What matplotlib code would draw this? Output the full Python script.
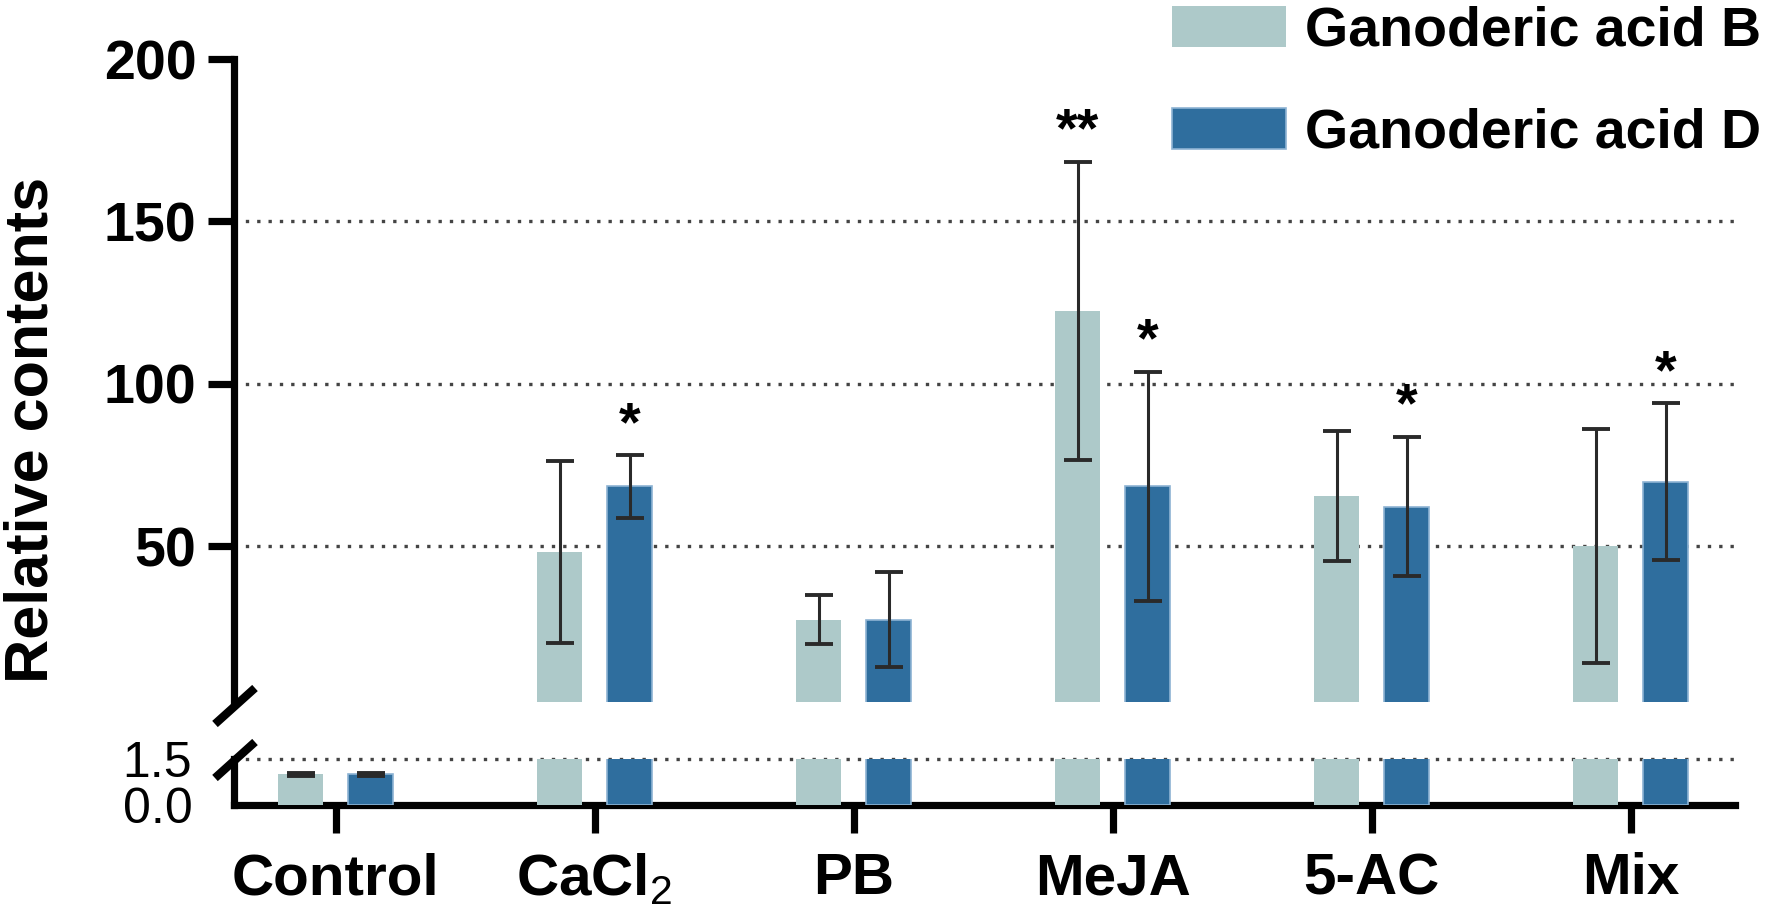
import matplotlib
matplotlib.use("Agg")
import matplotlib.pyplot as plt
import numpy as np
from matplotlib.lines import Line2D

plt.rcParams["font.family"] = ["Liberation Sans", "DejaVu Sans"]
plt.rcParams["mathtext.fontset"] = "custom"
plt.rcParams["mathtext.rm"] = "Liberation Sans"

# data
groups = ["Control", r"CaCl$_\mathrm{2}$", "PB", "MeJA", "5-AC", "Mix"]
acid_b = [1.0, 48.2, 27.4, 122.4, 65.3, 50.0]
acid_b_err = [0.05, 28.0, 7.5, 46.0, 20.0, 36.0]
acid_d = [1.0, 68.4, 27.4, 68.4, 62.2, 69.8]
acid_d_err = [0.05, 9.6, 14.5, 35.3, 21.5, 24.2]
stars_b = ["", "", "", "**", "", ""]
stars_d = ["", "*", "", "*", "*", "*"]

c_b = "#adc9c9"
c_d = "#2f6e9e"
W, H = 1772, 916

fig = plt.figure(figsize=(W / 100, H / 100), dpi=100)

def fx(px):
    return px / W

def fy(py):
    return 1 - py / H

left, right = 234, 1735
ax_top = fig.add_axes([fx(left), fy(702), fx(right - left), fy(59) - fy(702)])
ax_bot = fig.add_axes([fx(left), fy(805), fx(right - left), fy(759) - fy(805)])

x = np.arange(len(groups))
bw = 0.175
off = 0.135
ekw = dict(ecolor="#2a2a2a", elinewidth=2.2, capsize=10, capthick=2.8)
spw = 5.2

for ax in (ax_top, ax_bot):
    ax.bar(x - off, acid_b, bw, color=c_b, yerr=acid_b_err, error_kw=ekw,
           zorder=3, label="Ganoderic acid B")
    ax.bar(x + off, acid_d, bw, color=c_d, edgecolor="#8db3d3", linewidth=1.2,
           yerr=acid_d_err, error_kw=ekw, zorder=3, label="Ganoderic acid D")
    ax.set_xlim(-0.392, 5.403)
    for s in ("top", "right"):
        ax.spines[s].set_visible(False)
    ax.spines["left"].set_linewidth(spw)

# upper part
ax_top.set_ylim(2, 200)
ax_top.spines["bottom"].set_visible(False)
ax_top.set_yticks([50, 100, 150, 200])
ax_top.set_yticklabels(["50", "100", "150", "200"], fontsize=40, fontweight="bold")
ax_top.tick_params(axis="y", length=19, width=spw, pad=8)
ax_top.set_xticks([])
for g in (50, 100, 150):
    ax_top.axhline(g, color="#444444", ls=(0, (1, 2.4)), lw=2.4, zorder=1)

for i in range(len(groups)):
    if stars_b[i]:
        ax_top.text(x[i] - off, acid_b[i] + acid_b_err[i] + 1, stars_b[i],
                    ha="center", va="bottom", fontsize=40, fontweight="bold")
    if stars_d[i]:
        ax_top.text(x[i] + off, acid_d[i] + acid_d_err[i] + 1, stars_d[i],
                    ha="center", va="bottom", fontsize=40, fontweight="bold")

# lower part
ax_bot.set_ylim(0, 1.5)
ax_bot.set_yticks([0, 1.5])
ax_bot.set_yticklabels(["0.0", "1.5"], fontsize=36)
ax_bot.tick_params(axis="y", length=0, pad=30)
ax_bot.spines["bottom"].set_linewidth(spw)
ax_bot.set_xticks(x)
ax_bot.set_xticklabels(groups, fontsize=42, fontweight="bold")
ax_bot.tick_params(axis="x", length=20, width=spw, pad=14)
ax_bot.axhline(1.5, color="#444444", ls=(0, (1, 2.4)), lw=2.4, zorder=1,
               clip_on=False)

# axis break marks
for yb in (706, 760):
    fig.add_artist(Line2D([fx(left - 19), fx(left + 21)], [fy(yb + 18), fy(yb - 18)],
                          color="black", lw=6, solid_capstyle="butt"))

fig.text(fx(32), fy(430), "Relative contents", rotation=90, ha="center",
         va="center", fontsize=44, fontweight="bold")

handles, labels = ax_top.get_legend_handles_labels()
fig.legend(handles, labels, loc="upper left", bbox_to_anchor=(fx(1172), fy(6)),
           frameon=False, prop=dict(weight="bold", size=40),
           handlelength=2.05, handleheight=0.75, handletextpad=0.35,
           labelspacing=0.9, borderpad=0, borderaxespad=0)

fig.savefig("out.png", dpi=100)
